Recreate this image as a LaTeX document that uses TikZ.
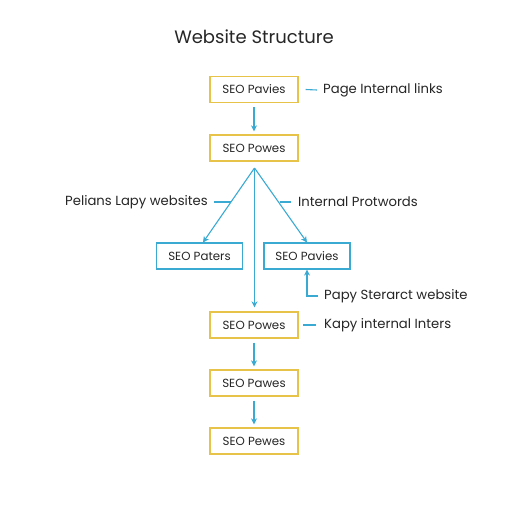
\documentclass[tikz,border=0pt]{standalone}
\usepackage{fontspec}
\setmainfont{Poppins}
\usetikzlibrary{arrows.meta}
\definecolor{ybox}{HTML}{E8C349}
\definecolor{bline}{HTML}{3AAAD3}
\definecolor{txt}{HTML}{262626}
\tikzset{
  ynode/.style={draw=ybox, line width=1.3pt, minimum width=88pt, minimum height=26pt, inner sep=0pt, text=txt, font=\fontsize{11.8}{14}\selectfont},
  bnode/.style={draw=bline, line width=1.1pt, minimum width=86pt, minimum height=26pt, inner sep=0pt, text=txt, font=\fontsize{11.8}{14}\selectfont},
  lab/.style={text=txt, font=\fontsize{13.2}{16}\selectfont, inner sep=0pt},
  arr/.style={draw=bline, line width=1.1pt, -{Stealth[length=6pt,width=6pt]}},
  ln/.style={draw=bline, line width=1.1pt},
}
\begin{document}
\begin{tikzpicture}[x=1pt,y=-1pt]
\fill[white] (0,0) rectangle (512,512);
\useasboundingbox (0,0) rectangle (512,512);
\node[text=txt, font=\fontsize{18}{21}\selectfont, inner sep=0pt] (title) at (254,37) {Website Structure};
\node[ynode] (b1) at (254,89.5) {SEO Pavies};
\node[ynode] (b2) at (254,148) {SEO Powes};
\node[bnode] (bl) at (199.5,256) {SEO Paters};
\node[bnode] (br) at (307,256) {SEO Pavies};
\node[ynode] (b4) at (254,325) {SEO Powes};
\node[ynode] (b5) at (254,383) {SEO Pawes};
\node[ynode] (b6) at (254,441) {SEO Pewes};
% labels
\node[lab, anchor=west] (l1) at (323,90) {Page Internal links};
\node[lab, anchor=east] (l2) at (208,202) {Pelians Lapy websites};
\node[lab, anchor=west] (l3) at (298,202) {Internal Protwords};
\node[lab, anchor=west] (l4) at (324,296) {Papy Sterarct website};
\node[lab, anchor=west] (l5) at (324,325) {Kapy internal Inters};
% coordinates
\coordinate (fork) at (254.5,168);
\coordinate (dl) at (230.5,202);
\coordinate (dr) at (279.5,202);
% connectors
\draw[ln] ([xshift=-6pt]l1.west) -- ([xshift=7pt]b1.east);
\draw[arr, shorten <=4pt, shorten >=3pt] (b1) -- (b2);
\draw[arr] (fork) -- ([xshift=3.5pt]bl.north);
\draw[arr] (fork) -- (br.north);
\draw[arr, shorten >=4pt] (fork) -- (fork |- b4.north);
\draw[ln] ([xshift=6pt]l2.east) -- (dl);
\draw[ln] ([xshift=-7pt]l3.west) -- (dr);
\draw[arr] ([xshift=-6pt]l4.west) -| (br.south);
\draw[ln] ([xshift=-8pt]l5.west) -- ([xshift=4pt]b4.east);
\draw[arr, shorten <=4pt, shorten >=3pt] (b4) -- (b5);
\draw[arr, shorten <=4pt, shorten >=3pt] (b5) -- (b6);
\end{tikzpicture}
\end{document}
